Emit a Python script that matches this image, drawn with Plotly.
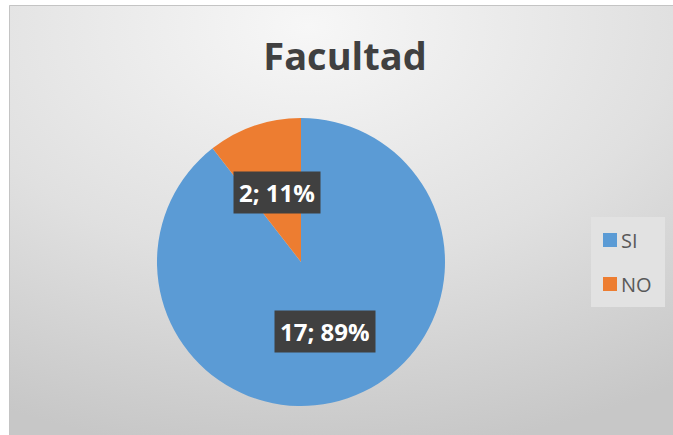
import base64, math
import plotly.graph_objects as go

# ---- data ----
categories = ["SI", "NO"]
values = [17, 2]
colors = ["#5B9BD5", "#ED7D31"]
title_text = "Facultad"

W, H = 673, 435
total = sum(values)

# ---- background gradient (svg data uri) ----
svg = '''<svg xmlns="http://www.w3.org/2000/svg" width="664" height="430" viewBox="0 0 664 430" preserveAspectRatio="none">
<defs><radialGradient id="g" cx="0.45" cy="0.05" r="1.0" gradientUnits="objectBoundingBox">
<stop offset="0" stop-color="#f7f7f7"/><stop offset="0.55" stop-color="#e0e0e0"/><stop offset="1" stop-color="#c7c7c7"/></radialGradient></defs>
<rect x="0" y="0" width="664" height="430" fill="url(#g)"/></svg>'''
bg_uri = "data:image/svg+xml;base64," + base64.b64encode(svg.encode()).decode()

def px(x):
    return x / W

def py(y):
    return 1 - y / H

# pie geometry (pixels)
cx, cy, R = 301, 262, 144
dom_x = [px(cx - R), px(cx + R)]
dom_y = [py(cy + R), py(cy - R)]

fig = go.Figure()
fig.add_trace(go.Pie(
    labels=categories, values=values, sort=False, direction="clockwise", rotation=0,
    marker=dict(colors=colors, line=dict(width=0)),
    textinfo="none", hoverinfo="label+value+percent", showlegend=False,
    domain=dict(x=dom_x, y=dom_y),
))

annotations = []
shapes = []

# data labels computed from the values
cum = 0
lab_r = 0.51
for cat, v in zip(categories, values):
    mid = (cum + v / 2) / total * 2 * math.pi
    cum += v
    lx = cx + lab_r * R * math.sin(mid)
    ly = cy - lab_r * R * math.cos(mid)
    txt = f"{v}; {round(100 * v / total)}%"
    annotations.append(dict(
        x=px(lx), y=py(ly), xref="paper", yref="paper", showarrow=False,
        text=txt, height=31,
        font=dict(family="Open Sans", size=24, color="white", weight="bold"),
        bgcolor="#404040", borderpad=5,
        xanchor="center", yanchor="middle",
    ))

# manual legend
shapes.append(dict(type="rect", xref="paper", yref="paper", x0=px(591), x1=px(665), y0=py(307), y1=py(217),
                   fillcolor="#e2e2e2", line=dict(width=0), layer="below"))
for i, (cat, col) in enumerate(zip(categories, colors)):
    ty = 240 + 44 * i
    shapes.append(dict(type="rect", xref="paper", yref="paper", x0=px(603), x1=px(617), y0=py(ty + 7), y1=py(ty - 7),
                       fillcolor=col, line=dict(width=0)))
    annotations.append(dict(x=px(619), y=py(ty), xref="paper", yref="paper", showarrow=False, text=cat,
                            xanchor="left", yanchor="middle",
                            font=dict(family="Open Sans", size=20, color="#595959")))

# chart border
shapes.append(dict(type="rect", xref="paper", yref="paper", x0=px(9.5), x1=px(W + 5), y0=py(H + 5), y1=py(5.5),
                   line=dict(color="#c4c4c4", width=1), fillcolor="rgba(0,0,0,0)", layer="above"))

fig.update_layout(
    width=W, height=H, margin=dict(l=0, r=0, t=0, b=0),
    paper_bgcolor="white", plot_bgcolor="white",
    title=dict(text=f"<b>{title_text}</b>", x=px(345), xanchor="center", y=py(57), yanchor="middle",
               font=dict(family="Open Sans", size=38, color="#404040")),
    images=[dict(source=bg_uri, xref="paper", yref="paper", x=px(9), y=py(5), sizex=(W - 9) / W,
                 sizey=(H - 5) / H, xanchor="left", yanchor="top", sizing="stretch", layer="below")],
    shapes=shapes, annotations=annotations, showlegend=False,
)

fig.write_html("out.html", config={"displayModeBar": False},
               post_script="document.body.style.margin='0';")
